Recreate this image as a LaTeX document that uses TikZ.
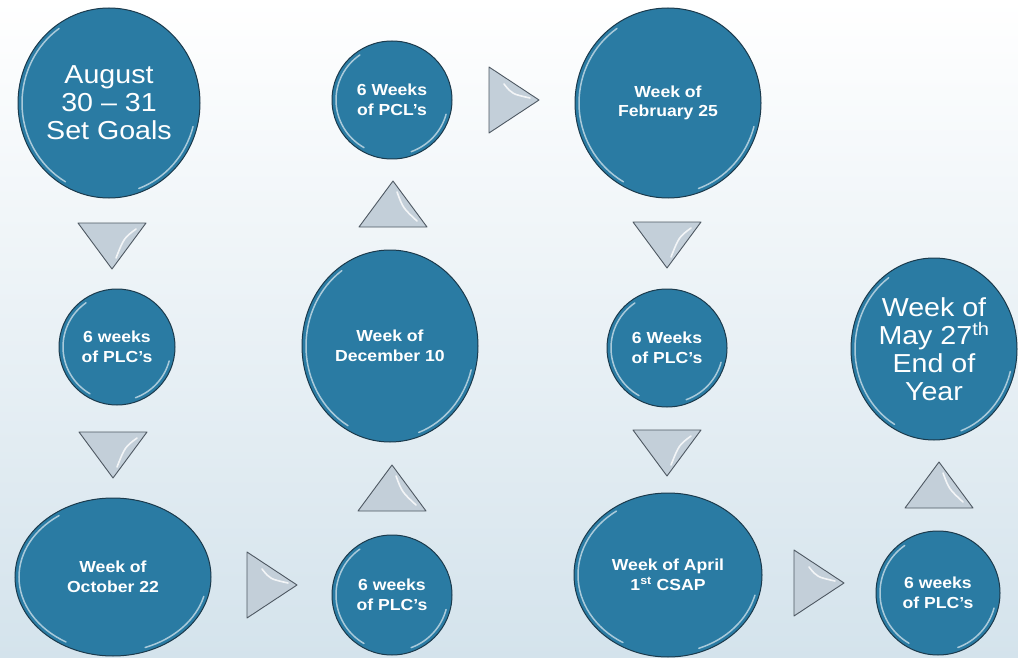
\documentclass[tikz,border=0pt]{standalone}
\usepackage{fontspec}
\setmainfont{Liberation Sans}[FakeStretch=1.1]
\usetikzlibrary{shapes.geometric}
\definecolor{bub}{HTML}{2A7BA3}
\definecolor{bubedge}{HTML}{1B3A4C}
\definecolor{trifill}{HTML}{C3CFD9}
\definecolor{triedge}{HTML}{4E5862}
\definecolor{bgbot}{HTML}{D4E3EC}
\newcommand\bubble[7]{%
  \node[bubble,#6,minimum width={2*#4},minimum height={2*#5}] (#1) at (#2,#3) {#7};
  \pgfmathsetmacro\gra{#4-4}\pgfmathsetmacro\grb{#5-4}%
  \draw[gloss] ([shift={(120:{\gra} and {\grb})}]#1.center) arc[start angle=120,end angle=235,x radius=\gra,y radius=\grb];
  \draw[gloss] ([shift={(15:{\gra} and {\grb})}]#1.center) arc[start angle=15,end angle=70,x radius=\gra,y radius=\grb];
}
\newcommand\tridown[3]{%
  \coordinate (#1) at (#2,#3);
  \draw[tri] ([shift={(-34,-23)}]#1) -- ([shift={(34,-23)}]#1) -- ([shift={(0,23)}]#1) -- cycle;
  \draw[trigloss] ([shift={(24,-17)}]#1) .. controls ([shift={(12,-8)}]#1) .. ([shift={(4,12)}]#1);
}
\newcommand\triup[3]{%
  \coordinate (#1) at (#2,#3);
  \draw[tri] ([shift={(-34,23)}]#1) -- ([shift={(34,23)}]#1) -- ([shift={(0,-23)}]#1) -- cycle;
  \draw[trigloss] ([shift={(4,-12)}]#1) .. controls ([shift={(10,4)}]#1) .. ([shift={(24,17)}]#1);
}
\newcommand\triright[3]{%
  \coordinate (#1) at (#2,#3);
  \draw[tri] ([shift={(-25,-33)}]#1) -- ([shift={(25,0)}]#1) -- ([shift={(-25,33)}]#1) -- cycle;
  \draw[trigloss] ([shift={(-10,-16)}]#1) .. controls ([shift={(-2,-6)}]#1) .. ([shift={(16,-2)}]#1);
}
\begin{document}
\begin{tikzpicture}[x=1pt,y=-1pt,
  bubble/.style={ellipse, fill=bub, draw=bubedge, line width=1pt, inner sep=0pt, text=white, align=center},
  big/.style={font=\fontsize{26}{28}\selectfont},
  small/.style={font=\bfseries\fontsize{16}{19.5}\selectfont},
  gloss/.style={draw=white, draw opacity=0.6, line width=1.5pt, line cap=round},
  tri/.style={fill=trifill, draw=triedge, line width=0.9pt, line join=round},
  trigloss/.style={draw=white, draw opacity=0.8, line width=1.6pt, line cap=round}]
\useasboundingbox (0,0) rectangle (1018,658);
\shade[top color=white, middle color=white!75!bgbot, bottom color=bgbot] (0,0) rectangle (1018,658);

\bubble{aug}{109}{103}{91}{95}{big}{August\\30 -- 31\\Set Goals}
\bubble{plcA}{117}{347}{58}{58}{small}{6 weeks\\of PLC's}
\bubble{oct}{113}{577}{98}{79}{small}{Week of\\October 22}
\bubble{plcB}{392}{595}{60}{60}{small}{6 weeks\\of PLC's}
\bubble{dec}{390}{346}{88}{96}{small}{Week of\\December 10}
\bubble{pcl}{392}{100}{60}{59}{small}{6 Weeks\\of PCL's}
\bubble{feb}{668}{103}{93}{95}{small}{Week of\\February 25}
\bubble{plcC}{667}{348}{60}{59}{small}{6 Weeks\\of PLC's}
\bubble{apr}{668}{575}{94}{82}{small}{Week of April\\1\textsuperscript{st} CSAP}
\bubble{plcD}{938}{593}{62}{62}{small}{6 weeks\\of PLC's}
\bubble{may}{934}{349}{83}{91}{big}{Week of\\May 27\textsuperscript{th}\\End of\\Year}

\tridown{t1}{112}{246}
\tridown{t2}{113}{455}
\triright{t3}{272}{585}
\triup{t4}{392}{488}
\triup{t5}{393}{204}
\triright{t6}{514}{100}
\tridown{t7}{667}{245}
\tridown{t8}{667}{453}
\triright{t9}{819}{583}
\triup{t10}{939}{485}
\end{tikzpicture}
\end{document}
